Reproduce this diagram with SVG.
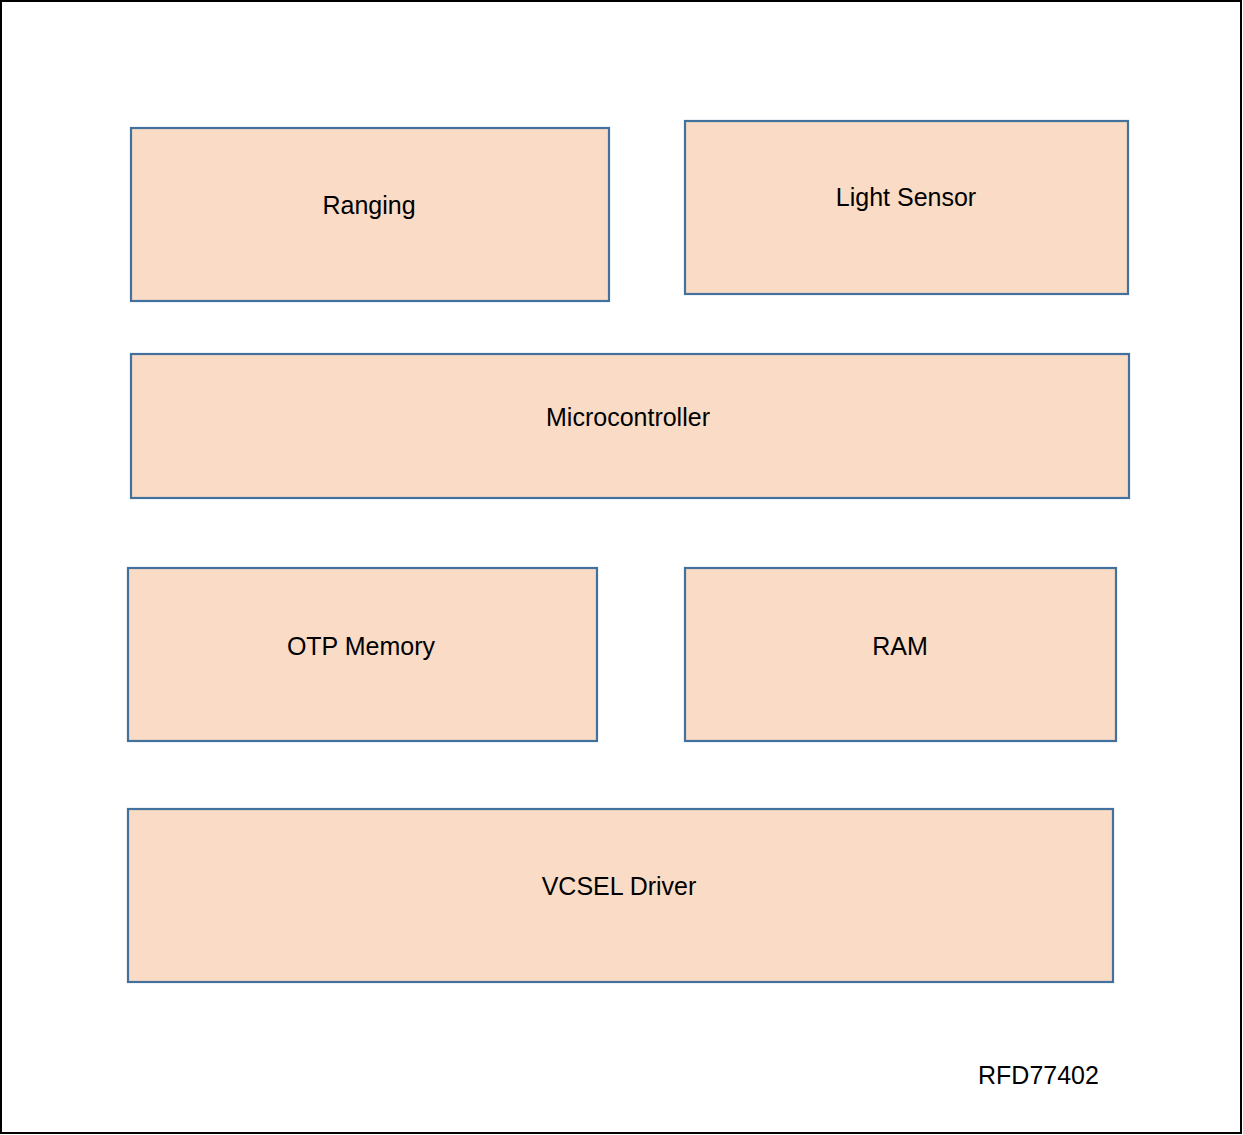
<svg xmlns="http://www.w3.org/2000/svg" width="1243" height="1135" viewBox="0 0 1243 1135">
<style>
.box{fill:#F9DBC6;stroke:#41719C;stroke-width:2.2}
.lbl{font-family:"Liberation Sans",Arial,sans-serif;font-size:25px;fill:#000;text-anchor:middle}
</style>
<rect x="1" y="1" width="1240" height="1132" fill="#fff" stroke="#000" stroke-width="2"/>
<g id="ranging"><rect class="box" x="131" y="128" width="478" height="173"/><text class="lbl" x="369" y="214">Ranging</text></g>
<g id="light-sensor"><rect class="box" x="685" y="121" width="443" height="173"/><text class="lbl" x="906" y="206">Light Sensor</text></g>
<g id="microcontroller"><rect class="box" x="131" y="354" width="998" height="144"/><text class="lbl" x="628" y="426">Microcontroller</text></g>
<g id="otp-memory"><rect class="box" x="128" y="568" width="469" height="173"/><text class="lbl" x="361" y="655">OTP Memory</text></g>
<g id="ram"><rect class="box" x="685" y="568" width="431" height="173"/><text class="lbl" x="900" y="655">RAM</text></g>
<g id="vcsel-driver"><rect class="box" x="128" y="809" width="985" height="173"/><text class="lbl" x="619" y="895">VCSEL Driver</text></g>
<g id="connectors"/>
<text x="978" y="1084" style="font-family:'Liberation Sans',Arial,sans-serif;font-size:25px;fill:#000">RFD77402</text>
</svg>
